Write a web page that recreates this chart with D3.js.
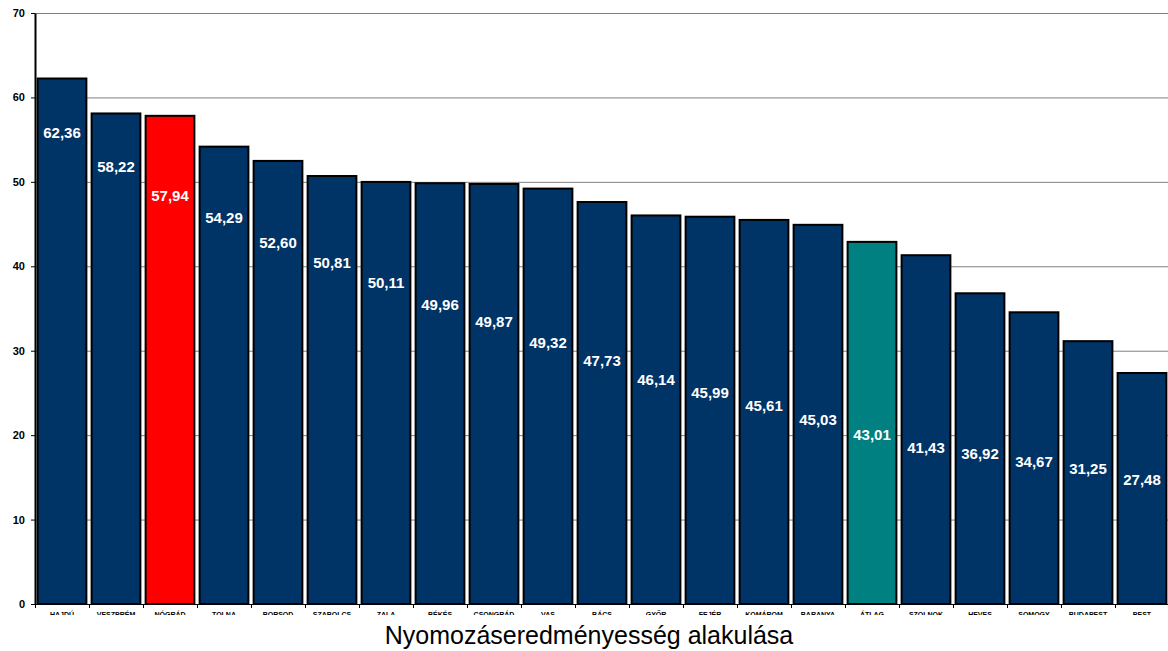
<!DOCTYPE html>
<html lang="hu">
<meta charset="utf-8">
<style>
body { margin: 0; background: #fff; }
svg { font-family: "Liberation Sans", Arial, sans-serif; }
.grid line { stroke: #808080; stroke-width: 1px; }
.grid path { display: none; }
.yaxis text { font-size: 11px; font-weight: bold; fill: #000; }
.yaxis path, .yaxis line { stroke: #000; }
.xaxis path, .xaxis line { stroke: #000; }
.val { font-size: 15px; font-weight: bold; fill: #fff; }
.cat { font-size: 7px; font-weight: bold; fill: #000; }
</style>
<body>
<script src="https://d3js.org/d3.v7.min.js"></script>
<script>

var categories = ["HAJDÚ", "VESZPRÉM", "NÓGRÁD", "TOLNA", "BORSOD", "SZABOLCS", "ZALA",
  "BÉKÉS", "CSONGRÁD", "VAS", "BÁCS", "GYŐR", "FEJÉR", "KOMÁROM", "BARANYA", "ÁTLAG",
  "SZOLNOK", "HEVES", "SOMOGY", "BUDAPEST", "PEST"];
var values = [62.36, 58.22, 57.94, 54.29, 52.60, 50.81, 50.11, 49.96, 49.87, 49.32, 47.73,
  46.14, 45.99, 45.61, 45.03, 43.01, 41.43, 36.92, 34.67, 31.25, 27.48];
// where each value label sits, in value units
var labelAt = [55.8, 51.8, 48.4, 45.7, 42.8, 40.4, 38.0, 35.5, 33.4, 30.9, 28.8,
  26.6, 25.0, 23.5, 21.8, 20.1, 18.5, 17.8, 16.9, 16.0, 14.7];
var yTicks = [0, 10, 20, 30, 40, 50, 60, 70];
var title = "Nyomozáseredményesség alakulása";

var W = 1168, H = 651;
var mLeft = 35, mRight = 1169, mTop = 13, mBottom = 604;

var svg = d3.select("body").append("svg")
    .attr("width", W)
    .attr("height", H);

var x = d3.scaleBand().domain(categories).range([mLeft, mRight]).paddingInner(0.06).paddingOuter(0.03);
var y = d3.scaleLinear().domain([0, 70]).range([mBottom, mTop]);

// gridlines
svg.append("g")
    .attr("class", "grid")
    .attr("transform", "translate(" + mLeft + ",0)")
    .call(d3.axisRight(y).tickValues(yTicks.slice(1)).tickSize(W - mLeft).tickFormat(""));

// bars
svg.selectAll(".bar")
    .data(values)
  .enter().append("rect")
    .attr("class", "bar")
    .attr("x", function(d, i) { return x(categories[i]) + 1; })
    .attr("y", function(d) { return y(d) + 1; })
    .attr("width", x.bandwidth() - 2)
    .attr("height", function(d) { return y(0) - y(d) - 1; })
    .attr("fill", function(d, i) {
      if (categories[i] === "NÓGRÁD") return "#ff0000";
      if (categories[i] === "ÁTLAG") return "#008080";
      return "#003366";
    })
    .attr("stroke", "#000")
    .attr("stroke-width", 2);

// value labels
svg.selectAll(".val")
    .data(values)
  .enter().append("text")
    .attr("class", "val")
    .attr("x", function(d, i) { return x(categories[i]) + x.bandwidth() / 2; })
    .attr("y", function(d, i) { return y(labelAt[i]); })
    .attr("dy", "0.35em")
    .attr("text-anchor", "middle")
    .text(function(d) { return d.toFixed(2).replace(".", ","); });

// y axis
svg.append("g")
    .attr("class", "yaxis")
    .attr("transform", "translate(" + mLeft + ",0)")
    .call(d3.axisLeft(y).tickValues(yTicks).tickSize(4).tickSizeOuter(0).tickPadding(6))
  .select(".domain").attr("stroke-width", 2);

// x axis with ticks between categories
var xi = d3.scaleLinear().domain([0, categories.length]).range([mLeft, mRight]);
svg.append("g")
    .attr("class", "xaxis")
    .attr("transform", "translate(0," + mBottom + ")")
    .call(d3.axisBottom(xi).ticks(categories.length).tickSize(4).tickSizeOuter(0).tickFormat(""));

// category labels, cut off at the bottom like the original
svg.append("clipPath").attr("id", "catclip")
  .append("rect").attr("x", 0).attr("y", mBottom + 4).attr("width", W).attr("height", 7);

svg.append("g")
    .attr("clip-path", "url(#catclip)")
  .selectAll(".cat")
    .data(categories)
  .enter().append("text")
    .attr("class", "cat")
    .attr("x", function(d) { return x(d) + x.bandwidth() / 2; })
    .attr("y", mBottom + 13)
    .attr("text-anchor", "middle")
    .text(function(d) { return d; });

svg.append("text")
    .attr("x", 589)
    .attr("y", 644)
    .attr("text-anchor", "middle")
    .style("font-size", "25px")
    .style("fill", "#000")
    .text(title);

</script>
</body>
</html>
